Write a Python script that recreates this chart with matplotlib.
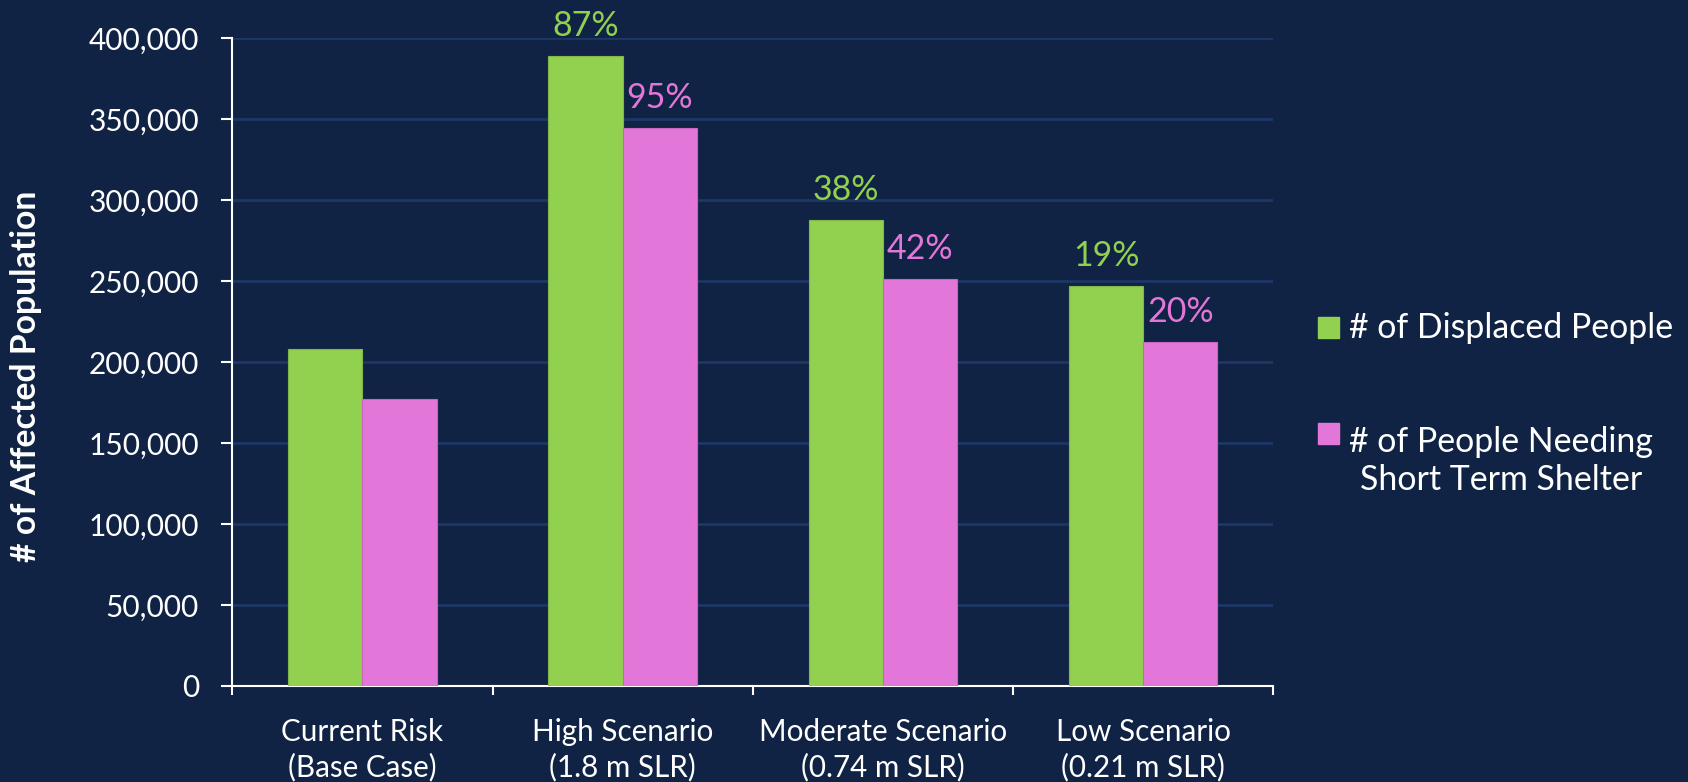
import matplotlib
matplotlib.use("Agg")
import matplotlib.pyplot as plt
import numpy as np
from matplotlib.patches import Rectangle
from matplotlib.ticker import FuncFormatter, MultipleLocator

# Affected population per sea level rise scenario
categories = ["Current Risk\n(Base Case)", "High Scenario\n(1.8 m SLR)",
              "Moderate Scenario\n(0.74 m SLR)", "Low Scenario\n(0.21 m SLR)"]
displaced = [207800, 388800, 287700, 247000]
shelter = [177000, 344400, 251000, 212500]
series_names = ["# of Displaced People", "# of People Needing\nShort Term Shelter"]

BG = "#102344"
GRID = "#1D3766"
GREEN = "#92D050"
PINK = "#E377D9"
plt.rcParams["font.family"] = ["Lato", "DejaVu Sans"]

fig = plt.figure(figsize=(16.88, 7.82), dpi=100, facecolor=BG)
ax = fig.add_axes([0.1376, 0.1228, 0.6167, 0.8286])
ax.set_facecolor(BG)

x = np.arange(len(categories))
w = 0.2855
b1 = ax.bar(x - w / 2, displaced, w, color=GREEN, edgecolor="#80B848", linewidth=0.8, zorder=3)
b2 = ax.bar(x + w / 2, shelter, w, color=PINK, edgecolor="#C865BF", linewidth=0.8, zorder=3)

# percent increase over the base case, shown above each scenario bar
for vals, bars, col in [(displaced, b1, GREEN), (shelter, b2, PINK)]:
    base = vals[0]
    for v, bar in list(zip(vals, bars))[1:]:
        pct = round((v / base - 1) * 100)
        ax.annotate(f"{pct}%", (bar.get_x() + bar.get_width() / 2, v), xytext=(0, 10),
                    textcoords="offset points", ha="center", va="bottom", color=col, fontsize=24.5)

ax.set_xlim(-0.5, len(categories) - 0.5)
ax.set_ylim(0, 400000)
ax.yaxis.set_major_locator(MultipleLocator(50000))
ax.yaxis.set_major_formatter(FuncFormatter(lambda v, p: f"{int(v):,}"))
ax.grid(axis="y", color=GRID, linewidth=2, zorder=0)
ax.set_axisbelow(True)

ax.set_xticks(x)
ax.set_xticklabels(categories, fontsize=21.3, color="white", linespacing=1.3)
ax.set_xticks(np.arange(len(categories) + 1) - 0.5, minor=True)
ax.tick_params(axis="x", which="major", length=0, pad=23)
ax.tick_params(axis="x", which="minor", length=6.5, width=1.5, color="white")
ax.tick_params(axis="y", length=8, width=1.5, color="white", labelcolor="white", labelsize=21.5, pad=16)

for s in ["top", "right"]:
    ax.spines[s].set_visible(False)
for s in ["left", "bottom"]:
    ax.spines[s].set_color("white")
    ax.spines[s].set_linewidth(1.5)

ax.set_ylabel("# of Affected Population", fontsize=24.3, fontweight="bold", color="white")
ax.yaxis.set_label_coords(-0.183, 0.4776)

# legend drawn in figure pixels to the right of the plot;
# square sits on the first line, text anchored on its last baseline
W, H = fig.get_size_inches() * fig.dpi
legend_rows = [(series_names[0], GREEN, 338, 338), (series_names[1], PINK, 444, 490)]
for name, col, square_y, text_y in legend_rows:
    fig.add_artist(Rectangle((1318 / W, 1 - square_y / H), 21 / W, 21 / H,
                             transform=fig.transFigure, color=col))
    fig.text(1349 / W, 1 - text_y / H, name, ha="left", va="baseline", fontsize=24.4,
             color="white", multialignment="center", linespacing=1.25)

fig.savefig("out.png", dpi=100, facecolor=BG)
